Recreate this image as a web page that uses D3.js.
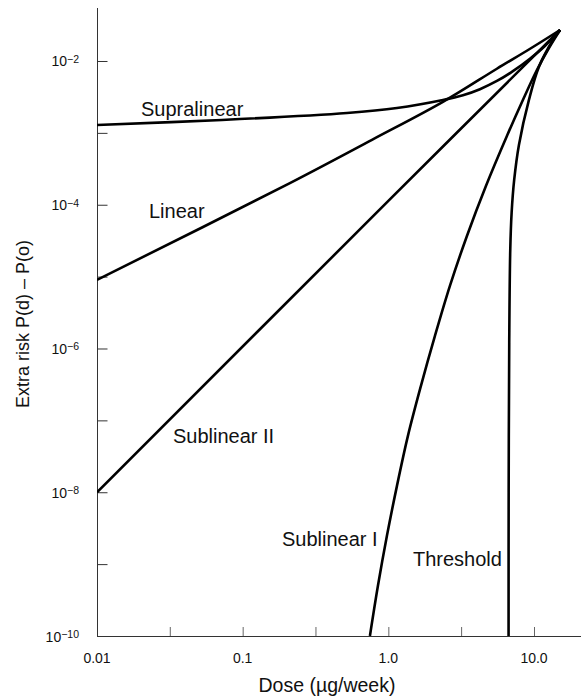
<!DOCTYPE html>
<html>
<head>
<meta charset="utf-8">
<script src="https://cdn.jsdelivr.net/npm/d3@7"></script>
<style>
  html, body { margin: 0; padding: 0; background: #fff; }
  svg { display: block; font-family: "Liberation Sans", Arial, Helvetica, sans-serif; }
</style>
</head>
<body>
<svg id="chart" width="581" height="700"></svg>
<script>
// ---- data ----
const xTickValues = [0.01, 0.1, 1.0, 10.0];
const xTickLabels = ["0.01", "0.1", "1.0", "10.0"];
const xMinorTicks = [0.0316, 0.316, 3.16];
const yTickExponents = [-2, -3, -4, -5, -6, -7, -8, -9];
const yLabelExponents = [-2, -4, -6, -8, -10];

const supraDose = [0.01, 0.0721, 0.52, 1.146, 2.371, 3.251, 4.254, 5.565, 7.165, 9.374, 11.88, 15.1];
const supraRisk = [1.288e-3, 1.511e-3, 1.891e-3, 2.22e-3, 2.868e-3, 3.333e-3, 4.053e-3, 5.27e-3, 7.21e-3, 1.076e-2, 1.617e-2, 2.7e-2];

const linearDose = [0.01, 0.211, 0.772, 2.37, 5.56, 9.4, 15.1];
const linearRisk = [9.0e-6, 2.0e-4, 8.0e-4, 2.7e-3, 7.8e-3, 1.48e-2, 2.7e-2];

const sub2Dose = [0.01, 1.0, 15.1];
const sub2Risk = [1e-8, 1.13e-4, 2.7e-2];

const sub1Dose = [0.7475, 0.8484, 0.978, 1.146, 1.363, 1.674, 2.089, 2.647, 3.464, 4.677, 6.517, 8.39, 10.47, 12.66, 15.1];
const sub1Risk = [1e-10, 4.99e-10, 2.475e-9, 1.227e-8, 6.09e-8, 3.02e-7, 1.497e-6, 7.42e-6, 3.68e-5, 1.826e-4, 9.06e-4, 2.87e-3, 7.5e-3, 1.516e-2, 2.7e-2];

const threshDose = [6.69, 6.70, 6.76, 6.87, 7.02, 7.31, 7.88, 9.23, 10.8, 13.5, 15.1];
const threshRisk = [1e-10, 1e-8, 1.2e-6, 2.35e-5, 7.69e-5, 2.21e-4, 6.79e-4, 2.87e-3, 8.26e-3, 1.96e-2, 2.7e-2];

const seriesNames = ["Supralinear", "Linear", "Sublinear II", "Sublinear I", "Threshold"];

// ---- chart ----
const svg = d3.select("#chart");
const x = d3.scaleLog().domain([0.01, 21.02]).range([97, 581]);
const y = d3.scaleLog().domain([1e-10, 0.0546]).range([636, 8]);

const axisColor = "#333";

// y axis
const yAxis = d3.axisRight(y)
  .tickValues(yTickExponents.map(e => Math.pow(10, e)))
  .tickSize(10)
  .tickFormat("");
const gy = svg.append("g").attr("transform", "translate(97,0)").call(yAxis);
gy.select(".domain").attr("stroke", axisColor).attr("d", "M0.5,8V636.5");
gy.selectAll(".tick line").attr("stroke", axisColor).attr("transform", "translate(0.5,0)");

// x axis
const xAxis = d3.axisTop(x)
  .tickValues(xTickValues.slice(1).concat(xMinorTicks))
  .tickSize(9)
  .tickFormat("");
const gx = svg.append("g").attr("transform", "translate(0,636)").call(xAxis);
gx.select(".domain").attr("stroke", axisColor).attr("d", "M97,0.5H581");
gx.selectAll(".tick line").attr("stroke", "#666");

// x tick labels
svg.append("g").selectAll("text").data(xTickValues).join("text")
  .attr("x", d => x(d))
  .attr("y", 663)
  .attr("text-anchor", "middle")
  .attr("font-size", 14)
  .attr("fill", "#111")
  .text((d, i) => xTickLabels[i]);

// y tick labels (10 with superscript exponent)
const yl = svg.append("g").selectAll("text").data(yLabelExponents).join("text")
  .attr("x", 79)
  .attr("y", d => y(Math.pow(10, d)) + 5.5)
  .attr("text-anchor", "end")
  .attr("font-size", 14)
  .attr("fill", "#111");
yl.append("tspan").text("10");
yl.append("tspan").attr("font-size", 10.5).attr("dy", -3.5).text(d => "\u2212" + Math.abs(d));

// axis titles
svg.append("text")
  .attr("x", 327).attr("y", 692)
  .attr("text-anchor", "middle")
  .attr("font-size", 19.5)
  .attr("fill", "#111")
  .text("Dose (\u00b5g/week)");
svg.append("text")
  .attr("transform", "translate(28.5,324) rotate(-90)")
  .attr("text-anchor", "middle")
  .attr("font-size", 18)
  .attr("fill", "#111")
  .text("Extra risk P(d) \u2013 P(o)");

// curves
const line = d3.line()
  .x(d => x(d[0]))
  .y(d => y(d[1]))
  .curve(d3.curveCatmullRom.alpha(0.5));

const series = [
  d3.zip(supraDose, supraRisk),
  d3.zip(linearDose, linearRisk),
  d3.zip(sub2Dose, sub2Risk),
  d3.zip(sub1Dose, sub1Risk),
  d3.zip(threshDose, threshRisk)
];

svg.append("defs").append("clipPath").attr("id", "plotclip")
  .append("rect").attr("x", 97).attr("y", 0).attr("width", 484).attr("height", 636);

svg.append("g").attr("clip-path", "url(#plotclip)")
  .selectAll("path").data(series).join("path")
  .attr("d", line)
  .attr("fill", "none")
  .attr("stroke", "#000")
  .attr("stroke-width", 2.6)
  .attr("stroke-linejoin", "round");

// curve labels
const labelPos = [[141, 116], [149, 218], [173, 443], [282, 546], [413, 566]];
svg.append("g").selectAll("text").data(seriesNames).join("text")
  .attr("x", (d, i) => labelPos[i][0])
  .attr("y", (d, i) => labelPos[i][1])
  .attr("font-size", 20)
  .attr("fill", "#111")
  .text(d => d);
</script>
</body>
</html>
